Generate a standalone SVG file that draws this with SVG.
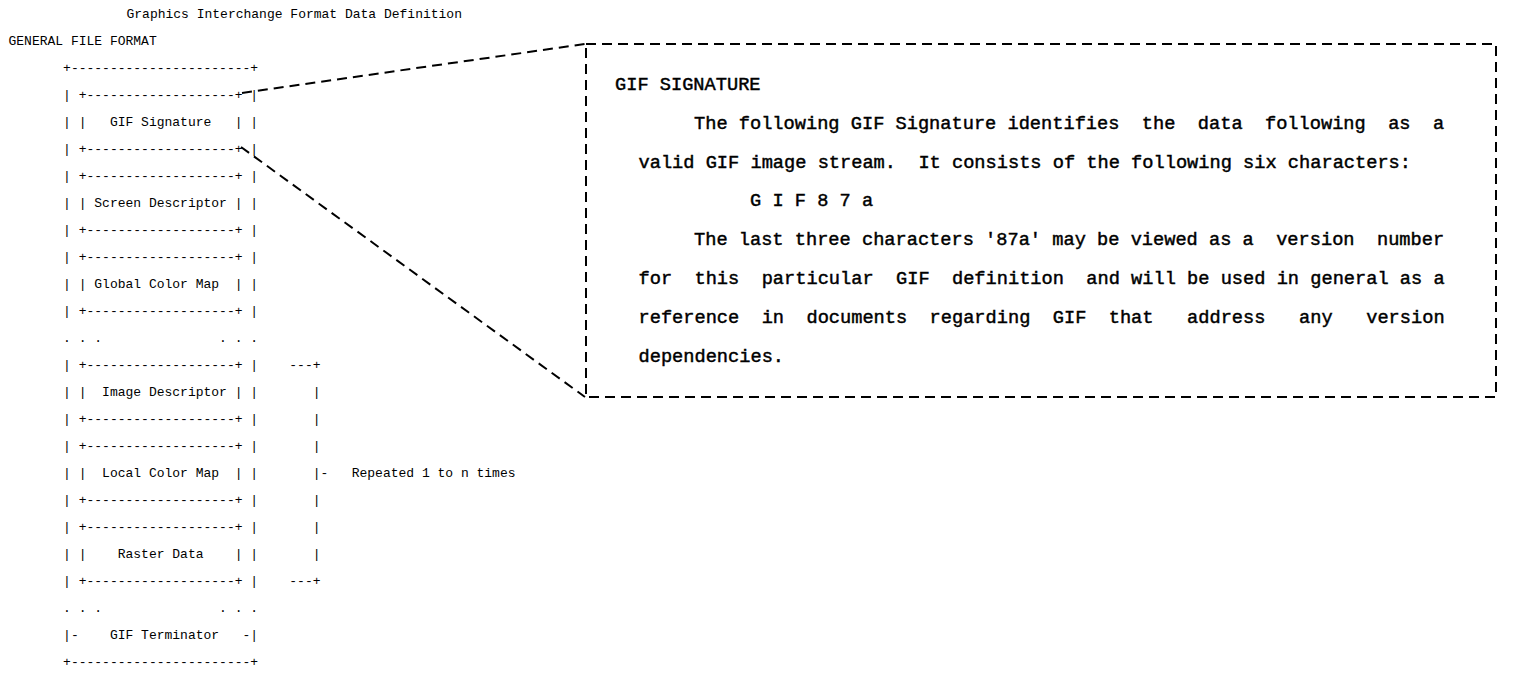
<svg xmlns="http://www.w3.org/2000/svg" width="1515" height="676" viewBox="0 0 1515 676" xml:space="preserve">
<style>
.a{font-family:"Liberation Mono","Courier New",monospace;font-size:13px;fill:#000;white-space:pre}
.b{font-family:"Liberation Mono","Courier New",monospace;font-size:18.67px;font-weight:normal;fill:#000;stroke:#000;stroke-width:0.45;white-space:pre}
.d{fill:none;stroke:#000;stroke-width:2;stroke-dasharray:10 6}
</style>
<rect width="1515" height="676" fill="#fff"/>
<g id="title">
<text class="a" x="126.5" y="18">Graphics Interchange Format Data Definition</text>
<text class="a" x="8.5" y="45">GENERAL FILE FORMAT</text>
</g>
<g id="file-format">
<g id="outer-top"><text class="a" x="63.1" y="72">+-----------------------+</text></g>
<g id="gif-signature">
<text class="a" x="63.1" y="99">| +-------------------+ |</text>
<text class="a" x="63.1" y="126">| |   GIF Signature   | |</text>
<text class="a" x="63.1" y="153">| +-------------------+ |</text>
</g>
<g id="screen-descriptor">
<text class="a" x="63.1" y="180">| +-------------------+ |</text>
<text class="a" x="63.1" y="207">| | Screen Descriptor | |</text>
<text class="a" x="63.1" y="234">| +-------------------+ |</text>
</g>
<g id="global-color-map">
<text class="a" x="63.1" y="261">| +-------------------+ |</text>
<text class="a" x="63.1" y="288">| | Global Color Map  | |</text>
<text class="a" x="63.1" y="315">| +-------------------+ |</text>
</g>
<g id="ellipsis-1"><text class="a" x="63.1" y="342">. . .               . . .</text></g>
<g id="image-descriptor">
<text class="a" x="63.1" y="369">| +-------------------+ |</text>
<text class="a" x="63.1" y="396">| |  Image Descriptor | |</text>
<text class="a" x="63.1" y="423">| +-------------------+ |</text>
</g>
<g id="local-color-map">
<text class="a" x="63.1" y="450">| +-------------------+ |</text>
<text class="a" x="63.1" y="477">| |  Local Color Map  | |</text>
<text class="a" x="63.1" y="504">| +-------------------+ |</text>
</g>
<g id="raster-data">
<text class="a" x="63.1" y="531">| +-------------------+ |</text>
<text class="a" x="63.1" y="558">| |    Raster Data    | |</text>
<text class="a" x="63.1" y="585">| +-------------------+ |</text>
</g>
<g id="ellipsis-2"><text class="a" x="63.1" y="612">. . .               . . .</text></g>
<g id="gif-terminator">
<text class="a" x="63.1" y="639">|-    GIF Terminator   -|</text>
<text class="a" x="63.1" y="666">+-----------------------+</text>
</g>
<g id="repeat-bracket">
<text class="a" x="289.3" y="369">---+</text>
<text class="a" x="312.7" y="396">|</text>
<text class="a" x="312.7" y="423">|</text>
<text class="a" x="312.7" y="450">|</text>
<text class="a" x="312.7" y="477">|-   Repeated 1 to n times</text>
<text class="a" x="312.7" y="504">|</text>
<text class="a" x="312.7" y="531">|</text>
<text class="a" x="312.7" y="558">|</text>
<text class="a" x="289.3" y="585">---+</text>
</g>
</g>
<g id="connectors">
<line class="d" x1="242" y1="93" x2="585" y2="44"/>
<line class="d" x1="241" y1="147" x2="585" y2="397"/>
</g>
<g id="gif-signature-detail">
<rect class="d" x="586" y="44" width="910" height="353"/>
<text class="b" x="615" y="89.5">GIF SIGNATURE</text>
<text class="b" x="694" y="128.5">The following GIF Signature identifies  the  data  following  as  a</text>
<text class="b" x="638.5" y="167.5">valid GIF image stream.  It consists of the following six characters:</text>
<text class="b" x="750" y="206">G I F 8 7 a</text>
<text class="b" x="694" y="245">The last three characters '87a' may be viewed as a  version  number</text>
<text class="b" x="638.5" y="284">for  this  particular  GIF  definition  and will be used in general as a</text>
<text class="b" x="638.5" y="323">reference  in  documents  regarding  GIF  that   address   any   version</text>
<text class="b" x="638.5" y="362">dependencies.</text>
</g>
</svg>
